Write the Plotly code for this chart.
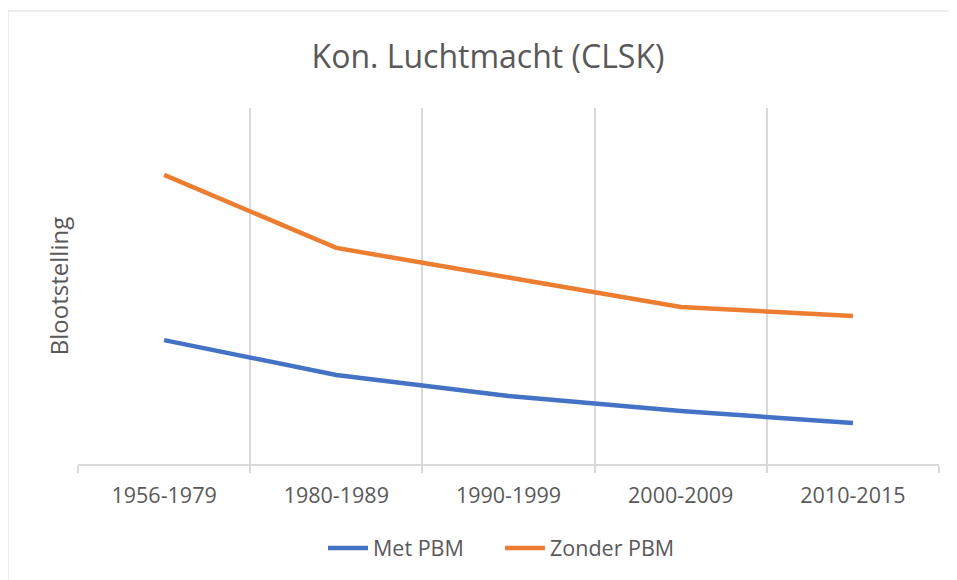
import plotly.graph_objects as go

categories = ["1956-1979", "1980-1989", "1990-1999", "2000-2009", "2010-2015"]
met_pbm = [34.8, 25.0, 19.1, 14.9, 11.5]
zonder_pbm = [81.2, 60.7, 52.4, 44.1, 41.6]

TXT = "#595959"
GRID = "#D9D9D9"
FONT = "Open Sans"

fig = go.Figure()
fig.add_trace(go.Scatter(x=categories, y=met_pbm, mode="lines", name="Met PBM",
                         line=dict(color="#4472C4", width=4.5)))
fig.add_trace(go.Scatter(x=categories, y=zonder_pbm, mode="lines", name="Zonder PBM",
                         line=dict(color="#ED7D31", width=4.5)))

# page body adds an 8px offset; target coordinates are screen coords minus 8
OFF = 8
W, H = 957 - OFF, 580 - OFF
L, T = 78 - OFF, 108 - OFF
R = W - (939 - OFF)
B = H - (464 - OFF)
pw, ph = W - L - R, H - T - B
bottom = H - B

fig.update_layout(
    width=W, height=H,
    margin=dict(l=L, r=R, t=T, b=B),
    paper_bgcolor="white", plot_bgcolor="white",
    font=dict(family=FONT, color=TXT, size=21),
    title=dict(text="Kon. Luchtmacht (CLSK)", x=(488 - OFF) / W, xref="container", xanchor="center",
               y=1 - (57 - OFF) / H, yref="container", yanchor="middle",
               font=dict(size=32, color=TXT, family=FONT)),
    showlegend=True,
    legend=dict(orientation="h", x=(323 - OFF - L) / pw, xanchor="left",
                y=(bottom - (548 - OFF)) / ph, yanchor="middle",
                font=dict(size=21.5, color=TXT), itemwidth=40,
                entrywidth=122, entrywidthmode="pixels",
                bgcolor="rgba(0,0,0,0)"),
    xaxis=dict(type="category", range=[-0.5, 4.5], tickson="boundaries",
               showgrid=True, gridcolor=GRID, gridwidth=1.5,
               showline=True, linecolor=GRID, linewidth=1.5,
               ticks="outside", ticklen=7, tickcolor=GRID, tickwidth=1.5,
               ticklabelstandoff=11,
               tickfont=dict(size=21.5, color=TXT), fixedrange=True),
    yaxis=dict(range=[0, 100], showgrid=False, zeroline=False, showline=False,
               showticklabels=False, ticks="",
               title=dict(text="Blootstelling", font=dict(size=24, color=TXT), standoff=1),
               fixedrange=True),
    shapes=[dict(type="rect", xref="paper", yref="paper",
                 x0=(0 - L) / pw, x1=(W + 5 - L) / pw,
                 y0=(bottom - (H + 10)) / ph, y1=(bottom - (11 - OFF)) / ph,
                 line=dict(color=GRID, width=1), fillcolor="rgba(0,0,0,0)", layer="below")],
)

fig.write_html("out.html")
